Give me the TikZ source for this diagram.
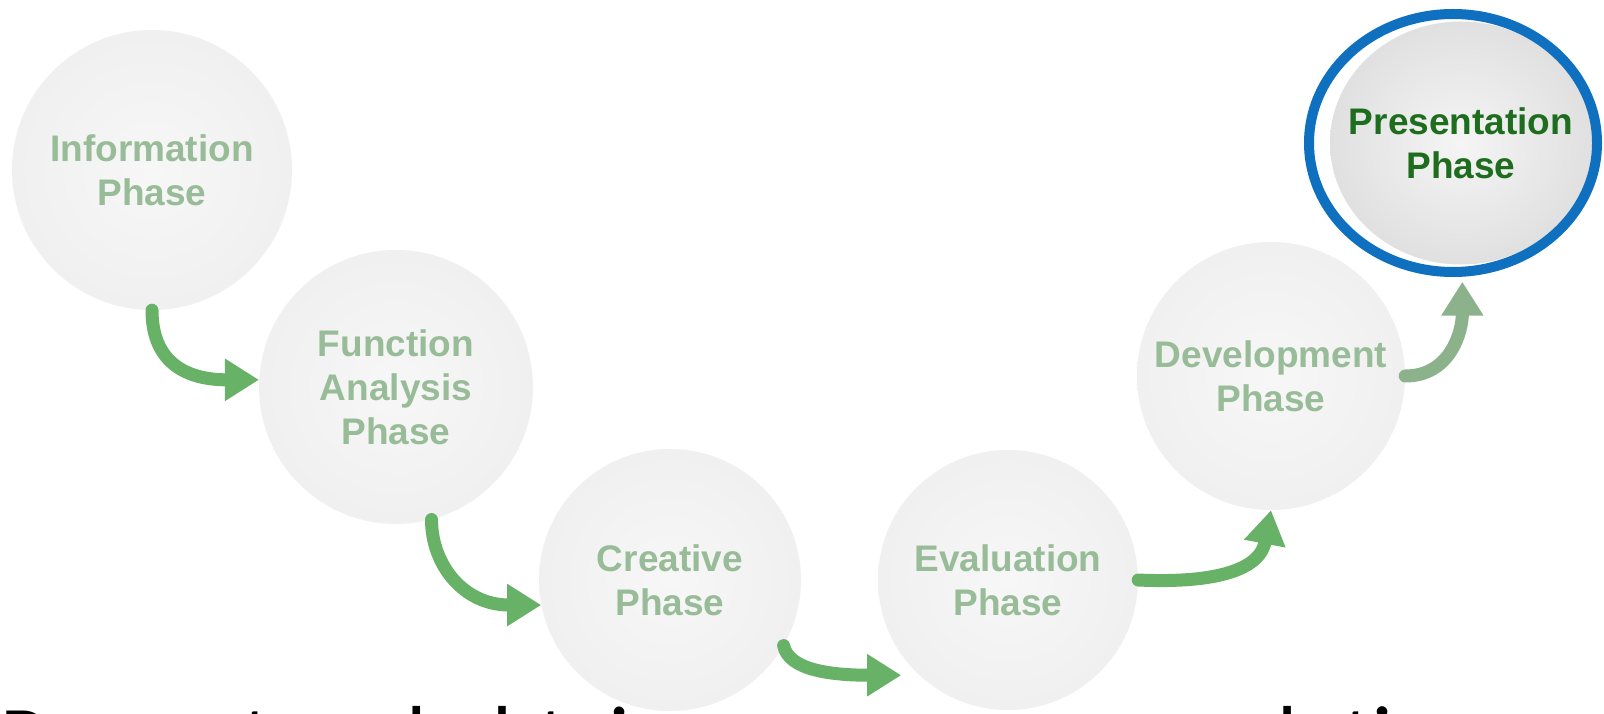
\documentclass[tikz,border=0pt]{standalone}
\usepackage{fontspec}
\setmainfont{Liberation Sans}
\newfontfamily\bottomfont{Carlito}
\usetikzlibrary{arrows.meta,shapes.geometric}
\definecolor{ballA}{RGB}{247,247,247}
\definecolor{ballB}{RGB}{239,239,239}
\definecolor{ballC}{RGB}{225,225,225}
\definecolor{gA}{RGB}{245,245,245}
\definecolor{gB}{RGB}{224,224,224}
\definecolor{gC}{RGB}{190,190,190}
\definecolor{phasetxt}{RGB}{152,188,152}
\definecolor{presgreen}{RGB}{30,108,30}
\definecolor{ringblue}{RGB}{16,112,192}
\definecolor{arrowgreen}{RGB}{104,178,104}
\definecolor{arrowpale}{RGB}{140,178,140}
\pgfdeclareradialshading{lightball}{\pgfpoint{0bp}{0bp}}{color(0bp)=(ballA); color(28bp)=(ballB); color(50bp)=(ballC); color(100bp)=(ballC)}
\pgfdeclareradialshading{greyball}{\pgfpoint{0bp}{0bp}}{color(0bp)=(gA); color(25bp)=(gB); color(50bp)=(gC); color(100bp)=(gC)}
\newcommand\phasefont{\fontsize{37}{44}\selectfont\bfseries}
\newcommand\capfont{\bottomfont\fontsize{88}{100}\selectfont}
\begin{document}
\begin{tikzpicture}[x=1pt,y=-1pt,
  ball/.style={circle, shading=lightball, inner sep=0pt},
  label/.style={align=center, inner sep=0pt, text=phasetxt, font=\phasefont},
  flow/.style={line width=13pt, draw=arrowgreen, line cap=round, -{Triangle[length=34pt,width=40pt]}},
]
\useasboundingbox (0,0) rectangle (1604,714);
\clip (0,0) rectangle (1604,714);
\fill[white] (0,0) rectangle (1604,714);

\node[ball, minimum size=280pt] (c1) at (152,170) {};
\node[ball, minimum size=274pt] (c2) at (396,387) {};
\node[ball, minimum size=262pt] (c3) at (670,580) {};
\node[ball, minimum size=260pt] (c4) at (1008,580) {};
\node[ball, minimum size=268pt] (c5) at (1271,376) {};
\node[ellipse, shading=greyball, minimum width=262pt, minimum height=243pt, inner sep=0pt] (pb) at (1461,143) {};
\node[ellipse, draw=ringblue, line width=10pt, minimum width=288pt, minimum height=258pt, inner sep=0pt] (p) at (1453,143) {};

\node[label] (t1) at (c1) {Information\\Phase};
\node[label] (t2) at (c2) {Function\\Analysis\\Phase};
\node[label] (t3) at (c3) {Creative\\Phase};
\node[label] (t4) at (c4) {Evaluation\\Phase};
\node[label] (t5) at (c5) {Development\\Phase};
\node[label, text=presgreen] (t6) at (pb) {Presentation\\Phase};

\draw[flow] (c1.south) .. controls +(0,48) and +(-78,0) .. (c2.177);
\draw[flow] (c2.-75) .. controls +(0,45) and +(-78,0) .. (c3.191);
\draw[flow, shorten >=18pt] (c3.-30) .. controls +(5,24) and +(-90,0) .. (c4.227);
\draw[flow] (c4.east) .. controls +(65,3) and +(-12,64) .. (c5.south);
\draw[flow, draw=arrowpale, shorten >=5pt] (c5.east) .. controls +(45,0) and +(0,55) .. (p.-86);

\node[anchor=base west, inner sep=0pt, font=\capfont] (cap) at (0,767) {Present and obtain consensus on solution};
\end{tikzpicture}
\end{document}
